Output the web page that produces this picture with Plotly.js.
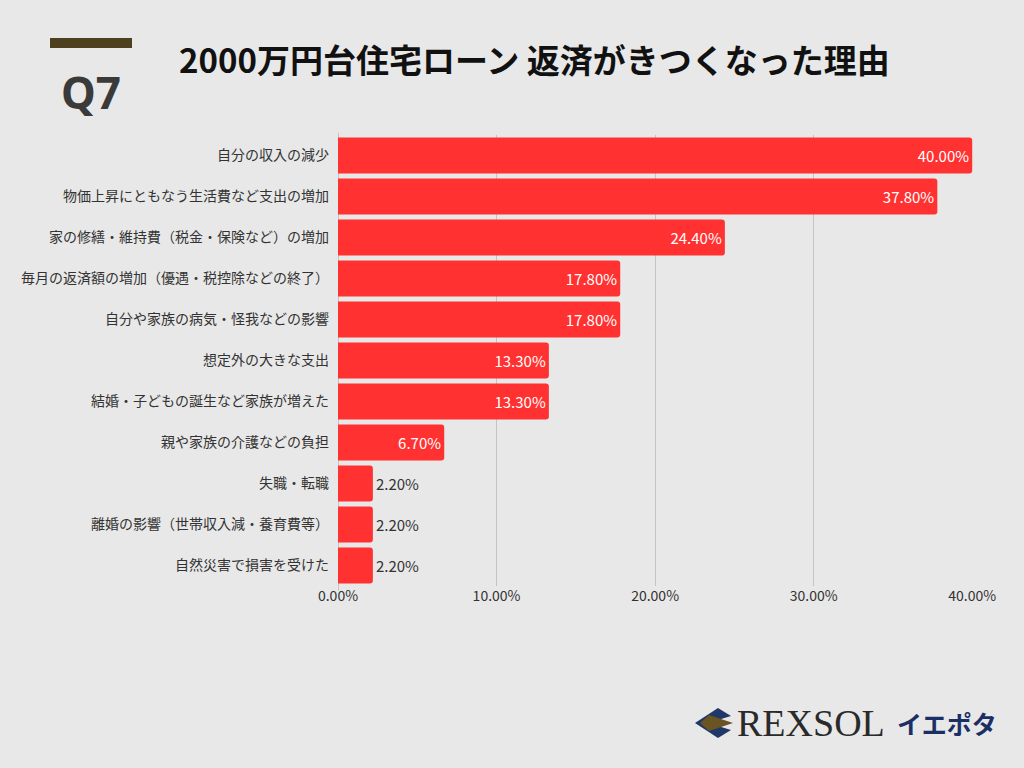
<!DOCTYPE html>
<html><head><meta charset="utf-8">
<script src="https://cdn.plot.ly/plotly-3.0.1.min.js"></script>
<style>html,body{margin:0;padding:0;background:#e8e8e8;}#chart{width:1024px;height:768px;}</style>
</head><body><div id="chart"></div>
<script>
const categories = [
  "自分の収入の減少",
  "物価上昇にともなう生活費など支出の増加",
  "家の修繕・維持費（税金・保険など）の増加",
  "毎月の返済額の増加（優遇・税控除などの終了）",
  "自分や家族の病気・怪我などの影響",
  "想定外の大きな支出",
  "結婚・子どもの誕生など家族が増えた",
  "親や家族の介護などの負担",
  "失職・転職",
  "離婚の影響（世帯収入減・養育費等）",
  "自然災害で損害を受けた"
];
const values = [40.0, 37.8, 24.4, 17.8, 17.8, 13.3, 13.3, 6.7, 2.2, 2.2, 2.2];
const tickVals = [0, 10, 20, 30, 40];
const tickText = ["0.00%", "10.00%", "20.00%", "30.00%", "40.00%"];
const titleText = "2000万円台住宅ローン 返済がきつくなった理由";

const FONT = "'Noto Sans CJK JP', 'Noto Sans', sans-serif";
const labels = values.map(v => v.toFixed(2) + "%");

function logoPath(pts) {
  return pts.map((p, i) => (i ? "L" : "M") + ((p[0]-338)/635).toFixed(5) + "," + ((768-182-p[1])/451).toFixed(5)).join(" ") + " Z";
}

const trace = {
  type: "bar",
  orientation: "h",
  x: values,
  y: categories,
  text: labels,
  textposition: values.map(v => v > 5 ? "inside" : "outside"),
  insidetextanchor: "end",
  textfont: {family: FONT, size: 15},
  outsidetextfont: {family: FONT, size: 15, color: "#333333"},
  insidetextfont: {family: FONT, size: 15, color: "#ffffff"},
  constraintext: "none",
  cliponaxis: false,
  marker: {color: "#ff3131", line: {width: 0}},
  hoverinfo: "none"
};

const layout = {
  width: 1024, height: 768,
  paper_bgcolor: "#e8e8e8",
  plot_bgcolor: "#e8e8e8",
  margin: {l: 338, r: 51, t: 135, b: 182},
  bargap: 0.12,
  barcornerradius: 3,
  showlegend: false,
  font: {family: FONT, color: "#333333", size: 14},
  xaxis: {
    range: [0, 40.05],
    tickvals: tickVals,
    ticktext: tickText,
    showgrid: true,
    gridcolor: "#c4c4c4",
    gridwidth: 1,
    zeroline: false,
    showline: false,
    ticks: "",
    tickfont: {family: FONT, size: 14, color: "#333333"},
    fixedrange: true
  },
  yaxis: {
    autorange: "reversed",
    showgrid: false,
    zeroline: false,
    showline: false,
    ticks: "",
    ticklabelstandoff: 8,
    tickfont: {family: FONT, size: 14, color: "#333333"},
    fixedrange: true
  },
  shapes: [
    {type: "line", xref: "x", yref: "paper", x0: 0, x1: 0, y0: -0.01, y1: 1.005, line: {color: "#b8b8b8", width: 1.5}, layer: "below"},
    {type: "rect", xref: "paper", yref: "paper",
     x0: (50-338)/635, x1: (132-338)/635, y0: (768-182-48)/451, y1: (768-182-38)/451,
     fillcolor: "#4e3f1f", line: {width: 0}},
    {type: "path", xref: "paper", yref: "paper",
     path: logoPath([[695,723],[718,708],[731,716],[708,723]]),
     fillcolor: "#1f3868", line: {width: 0}},
    {type: "path", xref: "paper", yref: "paper",
     path: logoPath([[695,723],[708,723],[731,730],[718,738]]),
     fillcolor: "#1f3868", line: {width: 0}},
    {type: "path", xref: "paper", yref: "paper",
     path: logoPath([[700,723],[709,715],[733,723],[709,731]]),
     fillcolor: "#6b5423", line: {width: 0}}
  ],
  annotations: [
    {text: "<b>" + titleText + "</b>", xref: "paper", yref: "paper",
     x: (177-338)/635, y: (768-182-59)/451, xanchor: "left", yanchor: "middle",
     showarrow: false, font: {family: FONT, size: 33, color: "#111111"}},
    {text: "<b>Q7</b>", xref: "paper", yref: "paper",
     x: (91-338)/635, y: (768-182-92)/451, xanchor: "center", yanchor: "middle",
     showarrow: false, font: {family: "'Noto Sans', sans-serif", size: 44, color: "#3a3a3a"}},
    {text: "REXSOL", xref: "paper", yref: "paper",
     x: (735-338)/635, y: (768-182-723)/451, xanchor: "left", yanchor: "middle",
     showarrow: false, font: {family: "'Liberation Serif', serif", size: 38, color: "#2a2a2a"}},
    {text: "<b>イエポタ</b>", xref: "paper", yref: "paper",
     x: (895-338)/635, y: (768-182-723)/451, xanchor: "left", yanchor: "middle",
     showarrow: false, font: {family: FONT, size: 25, color: "#1a2f66"}}
  ]
};

Plotly.newPlot("chart", [trace], layout, {displayModeBar: false, staticPlot: true});
</script></body></html>
